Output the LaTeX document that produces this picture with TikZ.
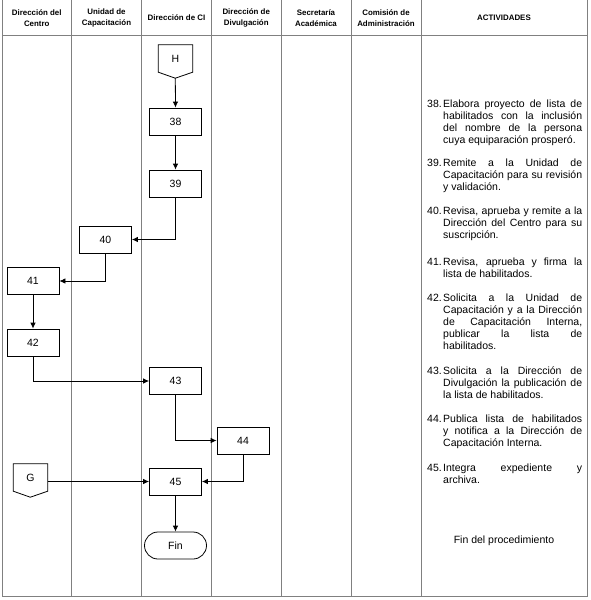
\documentclass[tikz,border=0pt]{standalone}
\usepackage{fontspec}
\setmainfont{Liberation Sans}
\usetikzlibrary{arrows.meta}

\newcommand{\actfont}{\fontsize{10.5}{12}\selectfont\fontdimen4\font=0pt\hyphenpenalty=10000\exhyphenpenalty=10000\sloppy}
\newcommand{\headfont}{\fontsize{7.9}{11}\selectfont\bfseries}
% numbered activity with hanging indent
\newcommand{\paso}[2]{\hangindent=16pt\hangafter=1\noindent\makebox[16pt][l]{#1}#2\par}

\tikzset{
  carril/.style={draw=gray, line width=0.9pt},
  encabezado/.style={align=center, font=\headfont, inner sep=0pt},
  caja/.style={draw, line width=0.8pt, minimum width=52pt, minimum height=27pt, inner sep=0pt, font=\actfont},
  conector/.style={minimum width=34pt, minimum height=27pt, inner sep=0pt, font=\actfont},
  actividad/.style={anchor=base west, text width=155pt, align=justify, inner sep=0pt, font=\actfont},
  flujo/.style={line width=0.8pt, -{Latex[length=6pt,width=5.5pt]}}
}

\begin{document}
\begin{tikzpicture}[x=1pt,y=-1pt]
  \useasboundingbox (0,0) rectangle (590,600);

  % Table lines
  \draw[carril] (2,0) -- (2,596) -- (587,596) -- (587,0);
  \draw[carril] (2,35) -- (587,35);
  \foreach \x in {71.5,141.5,211.5,281,351,421}
    \draw[carril] (\x,0) -- (\x,596);

  % Headers
  \node[encabezado] (dc) at (36.75,18) {Dirección del\\Centro};
  \node[encabezado] (uc) at (106.5,18) {Unidad de\\Capacitación};
  \node[encabezado] (dci) at (176.5,18) {Dirección de CI};
  \node[encabezado] (dd) at (246.25,18) {Dirección de\\Divulgación};
  \node[encabezado] (sa) at (316,18) {Secretaría\\Académica};
  \node[encabezado] (ca) at (386,18) {Comisión de\\Administración};
  \node[encabezado] (act) at (504,18) {ACTIVIDADES};

  % Off-page connectors
  \node[conector] (H) at (175.5,58.5) {H};
  \draw[line width=0.8pt] (H.north west) -- (H.south west) -- ++(17,6) coordinate (Hp)
    -- (H.south east) -- (H.north east) -- cycle;
  \node[conector] (G) at (30.5,477.5) {G};
  \draw[line width=0.8pt] (G.north west) -- (G.south west) -- ++(17,6) coordinate (Gp)
    -- (G.south east) -- (G.north east) -- cycle;

  % Steps
  \node[caja] (p38) at (175.5,121.5) {38};
  \node[caja] (p39) at (175.5,183.5) {39};
  \node[caja] (p40) at (105.5,239.5) {40};
  \node[caja] (p41) at (33,281) {41};
  \node[caja] (p42) at (33,342.5) {42};
  \node[caja] (p43) at (175.5,381) {43};
  \node[caja] (p44) at (243,440.5) {44};
  \node[caja] (p45) at (175.5,481.5) {45};
  \node[caja, rounded corners=13.5pt, minimum width=62pt] (fin) at (175.5,545.5) {Fin};

  % Flow
  \draw[flujo] (Hp) -- (p38.north);
  \draw[flujo] (p38) -- (p39);
  \draw[flujo] (p39.south) |- (p40.east);
  \draw[flujo] (p40.south) |- (p41.east);
  \draw[flujo] (p41) -- (p42);
  \draw[flujo] (p42.south) |- (p43.west);
  \draw[flujo] (p43.south) |- (p44.west);
  \draw[flujo] (p44.south) |- (p45.east);
  \draw[flujo] (G.east |- p45.west) -- (p45.west);
  \draw[flujo] (p45) -- (fin);

  % Activities
  \node[actividad] (a38) at (427,107) {\paso{38.}{Elabora proyecto de lista de habilitados con la inclusión del nombre de la persona cuya equiparación prosperó.}};
  \node[actividad] (a39) at (427,166.5) {\paso{39.}{Remite a la Unidad de Capacitación para su revisión y validación.}};
  \node[actividad] (a40) at (427,214.5) {\paso{40.}{Revisa, aprueba y remite a la Dirección del Centro para su suscripción.}};
  \node[actividad] (a41) at (427,265) {\paso{41.}{Revisa, aprueba y firma la lista de habilitados.}};
  \node[actividad] (a42) at (427,301.5) {\paso{42.}{Solicita a la Unidad de\linebreak Capacitación y a la Dirección\linebreak de Capacitación Interna,\linebreak publicar la lista de\linebreak habilitados.}};
  \node[actividad] (a43) at (427,374) {\paso{43.}{Solicita a la Dirección de Divulgación la publicación de la lista de habilitados.}};
  \node[actividad] (a44) at (427,422) {\paso{44.}{Publica lista de habilitados y notifica a la Dirección de Capacitación Interna.}};
  \node[actividad] (a45) at (427,471) {\paso{45.}{Integra expediente y\linebreak archiva.}};
  \node[font=\actfont, anchor=base] (afin) at (504,543.5) {Fin del procedimiento};
\end{tikzpicture}
\end{document}
